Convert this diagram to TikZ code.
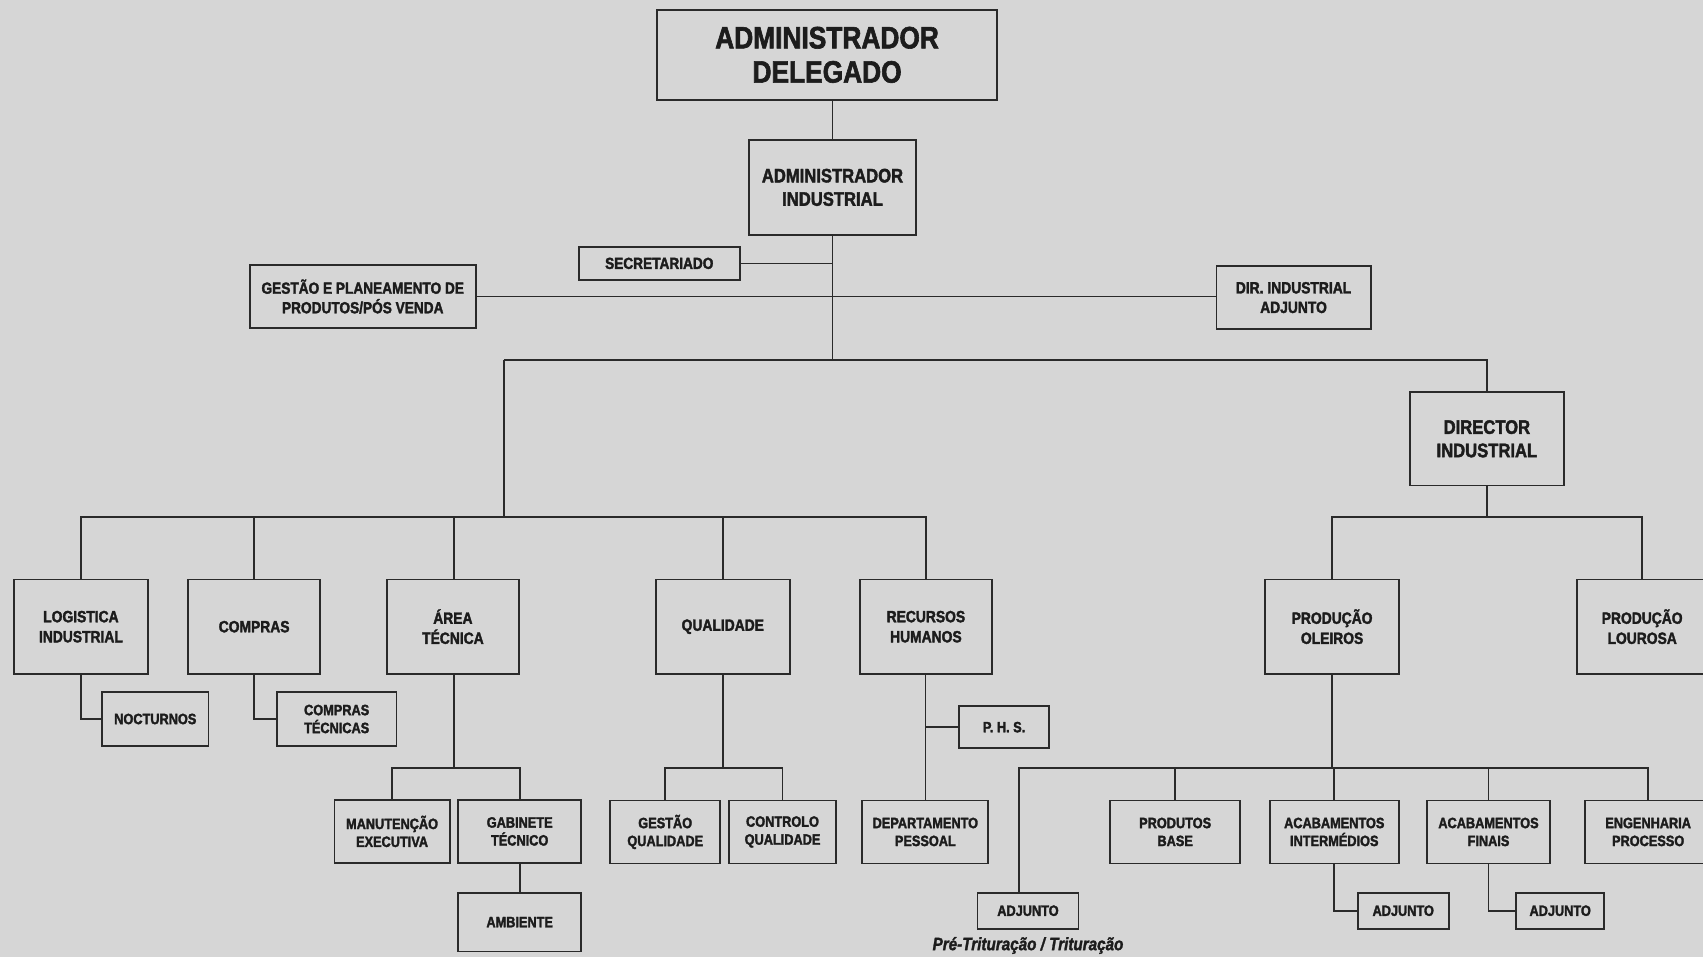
\documentclass[tikz,border=0pt]{standalone}
\usepackage{fontspec}
\setmainfont{Liberation Sans}[FakeStretch=0.85, BoldFont={Liberation Sans Bold}, BoldItalicFont={Liberation Sans Bold Italic}, BoldFeatures={FakeBold=2}, BoldItalicFeatures={FakeBold=1.6}]
\definecolor{bgc}{HTML}{D6D6D6}
\definecolor{linec}{HTML}{2A2A2A}
\definecolor{txtc}{HTML}{1C1C1C}
\begin{document}
\begin{tikzpicture}[x=1pt,y=-1pt,
  box/.style={draw=linec, line width=1.7pt, fill=bgc, inner sep=0pt, align=center,
              text=txtc, font=\bfseries},
  big/.style={font=\bfseries\fontsize{28.5}{31.5}\selectfont},
  mid/.style={font=\bfseries\fontsize{18}{21.5}\selectfont},
  lvl/.style={font=\bfseries\fontsize{15}{18.5}\selectfont, minimum width=122pt, minimum height=87pt},
  sml/.style={font=\bfseries\fontsize{13.8}{16.5}\selectfont},
  conn/.style={draw=linec, line width=1.5pt}]
\fill[bgc] (0,0) rectangle (1568,881);
\useasboundingbox (0,0) rectangle (1568,881);
\clip (0,0) rectangle (1568,881);

% top of the hierarchy
\node[box,big,minimum width=313pt,minimum height=83pt] (AD) at (761.5,50.5) {ADMINISTRADOR\\DELEGADO};
\node[box,mid,minimum width=153pt,minimum height=87pt] (AI) at (766.5,172.5) {ADMINISTRADOR\\INDUSTRIAL};
\node[box,font=\bfseries\fontsize{14.8}{18}\selectfont,minimum width=148pt,minimum height=30pt] (SEC) at (607,242.5) {SECRETARIADO};
\node[box,font=\bfseries\fontsize{14.8}{18}\selectfont,minimum width=208pt,minimum height=58pt] (GP) at (334,273) {GESTÃO E PLANEAMENTO DE\\PRODUTOS/PÓS VENDA};
\node[box,font=\bfseries\fontsize{15}{18}\selectfont,minimum width=142pt,minimum height=58pt] (DIA) at (1191,274) {DIR. INDUSTRIAL\\ADJUNTO};
\node[box,mid,minimum width=142pt,minimum height=86pt] (DI) at (1369,404) {DIRECTOR\\INDUSTRIAL};

% departments
\node[box,lvl,minimum width=123pt] (LI) at (74.5,577) {LOGISTICA\\INDUSTRIAL};
\node[box,lvl] (CO) at (234,577) {COMPRAS};
\node[box,lvl,minimum width=121pt] (AT) at (417,577) {ÁREA\\TÉCNICA};
\node[box,lvl,minimum width=123pt] (QU) at (665.5,577) {QUALIDADE};
\node[box,lvl,minimum width=121pt] (RH) at (852.5,577) {RECURSOS\\HUMANOS};
\node[box,lvl,minimum width=123pt] (PO) at (1226.5,577) {PRODUÇÃO\\OLEIROS};
\node[box,lvl,minimum width=120pt] (PL) at (1512,577) {PRODUÇÃO\\LOUROSA};

% sections
\node[box,sml,minimum width=98pt,minimum height=50pt] (NO) at (143,662) {NOCTURNOS};
\node[box,sml,minimum width=110pt,minimum height=50pt] (CT) at (310,662) {COMPRAS\\TÉCNICAS};
\node[box,sml,minimum width=83pt,minimum height=39pt] (PHS) at (924.5,669.5) {P. H. S.};
\node[box,sml,minimum width=106pt,minimum height=58pt] (ME) at (361,765.5) {MANUTENÇÃO\\EXECUTIVA};
\node[box,sml,minimum width=113pt,minimum height=58pt] (GT) at (478.5,765.5) {GABINETE\\TÉCNICO};
\node[box,sml,minimum width=113pt,minimum height=54pt] (AM) at (478.5,849) {AMBIENTE};
\node[box,sml,minimum width=101pt,minimum height=58pt] (GQ) at (612.5,766) {GESTÃO\\QUALIDADE};
\node[box,sml,minimum width=99pt,minimum height=58pt] (CQ) at (720.5,766) {CONTROLO\\QUALIDADE};
\node[box,sml,minimum width=116pt,minimum height=58pt] (DP) at (852,766) {DEPARTAMENTO\\PESSOAL};
\node[box,sml,minimum width=120pt,minimum height=58pt] (PB) at (1082,766) {PRODUTOS\\BASE};
\node[box,sml,minimum width=119pt,minimum height=58pt] (ACI) at (1228.5,766) {ACABAMENTOS\\INTERMÉDIOS};
\node[box,sml,minimum width=113pt,minimum height=58pt] (ACF) at (1370.5,766) {ACABAMENTOS\\FINAIS};
\node[box,sml,minimum width=117pt,minimum height=58pt] (EP) at (1517.5,766) {ENGENHARIA\\PROCESSO};
\node[box,sml,minimum width=93pt,minimum height=33pt] (A1) at (946.5,838.5) {ADJUNTO};
\node[box,sml,minimum width=84pt,minimum height=33pt] (A2) at (1292,838.5) {ADJUNTO};
\node[box,sml,minimum width=81pt,minimum height=33pt] (A3) at (1436.5,838.5) {ADJUNTO};
\node[text=txtc,inner sep=0pt,font=\bfseries\itshape\fontsize{16.5}{18}\selectfont] (lab) at (946.5,870.5) {Pré-Trituração / Trituração};

% junction points of the connector bars
\coordinate (J1) at (766.5,331.5);
\coordinate (J2) at (464,331.5);
\coordinate (B2) at (464,476);
\coordinate (B3) at (1369,476);
\coordinate (B4) at (418,707);
\coordinate (B5) at (665.5,707);
\coordinate (B6) at (1226.5,707);
\coordinate (A1j) at (938,707);

% connectors
\draw[conn] (AI.north) -- (AI.north |- AD.south);
\draw[conn] (AI.south) -- (J1);
\draw[conn] (SEC.east) -- (SEC.east -| AI.south);
\draw[conn] (GP.east) -- (GP.east -| DIA.west);
\draw[conn] (J2) -- (J1 -| DI.north) -- (DI.north);
\draw[conn] (J2) -- (B2);
\draw[conn] (LI.north) -- (LI.north |- B2) -- (RH.north |- B2) -- (RH.north);
\draw[conn] (CO.north) -- (CO.north |- B2);
\draw[conn] (AT.north -| B4) -- (B4 |- B2);
\draw[conn] (QU.north) -- (QU.north |- B2);
\draw[conn] (DI.south) -- (B3);
\draw[conn] (PO.north) -- (PO.north |- B3) -- (PL.north |- B3) -- (PL.north);
\draw[conn] (LI.south) |- (NO.west);
\draw[conn] (CO.south) |- (CT.west);
\draw[conn] (AT.south -| B4) -- (B4);
\draw[conn] (ME.north) -- (ME.north |- B4) -- (GT.north |- B4) -- (GT.north);
\draw[conn] (GT.south) -- (AM.north);
\draw[conn] (QU.south) -- (B5);
\draw[conn] (GQ.north) -- (GQ.north |- B5) -- (CQ.north |- B5) -- (CQ.north);
\draw[conn] (RH.south -| DP.north) -- (DP.north);
\draw[conn] (PHS.west) -- (PHS.west -| DP.north);
\draw[conn] (PO.south) -- (B6);
\draw[conn] (A1.north -| A1j) -- (A1j) -- (EP.north |- B6) -- (EP.north);
\draw[conn] (PB.north) -- (PB.north |- B6);
\draw[conn] (ACI.north) -- (ACI.north |- B6);
\draw[conn] (ACF.north) -- (ACF.north |- B6);
\draw[conn] (ACI.south) |- (A2.west);
\draw[conn] (ACF.south) |- (A3.west);
\end{tikzpicture}
\end{document}
